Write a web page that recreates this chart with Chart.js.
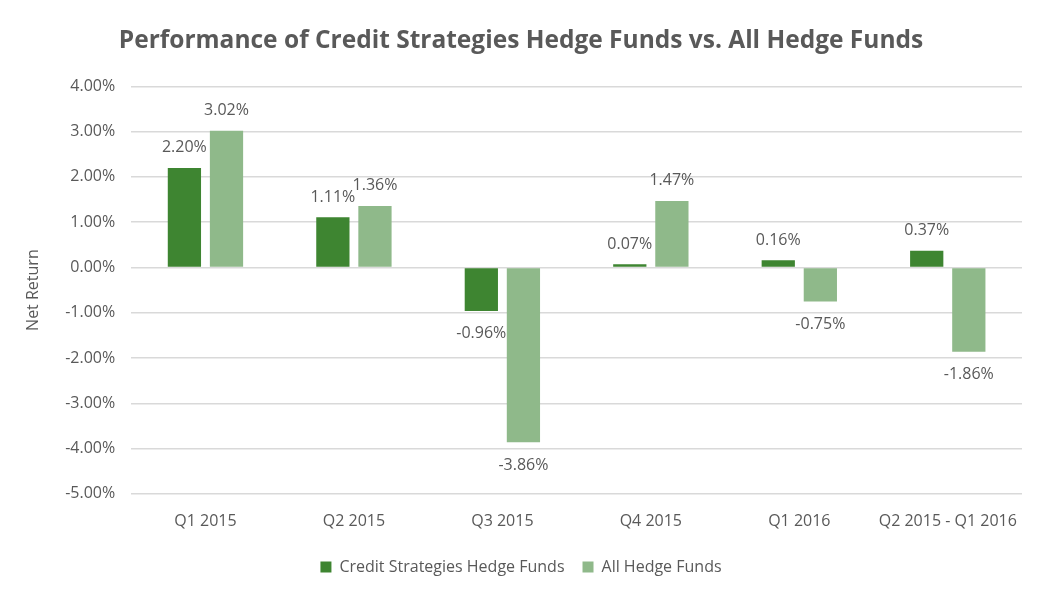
<!DOCTYPE html>
<html>
<head>
<meta charset="utf-8">
<title>Performance of Credit Strategies Hedge Funds vs. All Hedge Funds</title>
<script src="https://cdn.jsdelivr.net/npm/chart.js@4/dist/chart.umd.min.js"></script>
<style>
  html, body { margin: 0; padding: 0; background: #fff; }
  #wrap { width: 1048px; height: 599px; position: relative; }
</style>
</head>
<body>
<div id="wrap"><canvas id="chart"></canvas></div>
<script>
// values
const categories = ['Q1 2015', 'Q2 2015', 'Q3 2015', 'Q4 2015', 'Q1 2016', 'Q2 2015 - Q1 2016'];
const creditStrategies = [2.20, 1.11, -0.96, 0.07, 0.16, 0.37];
const allHedgeFunds = [3.02, 1.36, -3.86, 1.47, -0.75, -1.86];
const seriesNames = ['Credit Strategies Hedge Funds', 'All Hedge Funds'];
const yTicks = [4, 3, 2, 1, 0, -1, -2, -3, -4, -5];

const textColor = '#595959';
const fontFamily = "'Open Sans', 'Liberation Sans', sans-serif";

function pct(v) {
  return v.toFixed(2) + '%';
}

// value labels: above positive bars, below negative ones
const barLabels = {
  id: 'barLabels',
  afterDatasetsDraw(chart) {
    const ctx = chart.ctx;
    ctx.save();
    ctx.font = '16px ' + fontFamily;
    ctx.fillStyle = textColor;
    ctx.textAlign = 'center';
    ctx.textBaseline = 'middle';
    chart.data.datasets.forEach((ds, i) => {
      const meta = chart.getDatasetMeta(i);
      meta.data.forEach((bar, j) => {
        const v = ds.data[j];
        const y = v >= 0 ? bar.y - 20 : bar.y + 23;
        ctx.fillText(pct(v), bar.x, y);
      });
    });
    ctx.restore();
  }
};

new Chart(document.getElementById('chart'), {
  type: 'bar',
  data: {
    labels: categories,
    datasets: [{
      label: seriesNames[0],
      data: creditStrategies,
      backgroundColor: '#3e8531',
      categoryPercentage: 0.567,
      barPercentage: 0.79
    }, {
      label: seriesNames[1],
      data: allHedgeFunds,
      backgroundColor: '#8fb98a',
      categoryPercentage: 0.567,
      barPercentage: 0.79
    }]
  },
  options: {
    responsive: true,
    maintainAspectRatio: false,
    animation: false,
    layout: { padding: { left: 20, right: 26, top: 20, bottom: 14 } },
    plugins: {
      title: {
        display: true,
        text: 'Performance of Credit Strategies Hedge Funds vs. All Hedge Funds',
        color: textColor,
        font: { family: fontFamily, size: 24.5, weight: 'bold' },
        padding: { top: 6, bottom: 31 }
      },
      legend: {
        position: 'bottom',
        labels: {
          color: textColor,
          font: { family: fontFamily, size: 16 },
          boxWidth: 11,
          boxHeight: 11,
          padding: 18
        }
      },
      tooltip: { enabled: false }
    },
    scales: {
      x: {
        grid: { display: false },
        border: { display: false },
        ticks: { color: textColor, font: { family: fontFamily, size: 16 }, padding: 10 }
      },
      y: {
        min: -5,
        max: 4,
        afterBuildTicks(axis) {
          axis.ticks = yTicks.map(v => ({ value: v }));
        },
        grid: { color: '#d9d9d9', lineWidth: 1.5, drawTicks: false },
        border: { display: false },
        ticks: {
          color: textColor,
          font: { family: fontFamily, size: 16 },
          padding: 16,
          callback: v => pct(v)
        },
        title: {
          display: true,
          text: 'Net Return',
          color: textColor,
          font: { family: fontFamily, size: 16 },
          padding: { bottom: 6 }
        }
      }
    }
  },
  plugins: [barLabels]
});
</script>
</body>
</html>
